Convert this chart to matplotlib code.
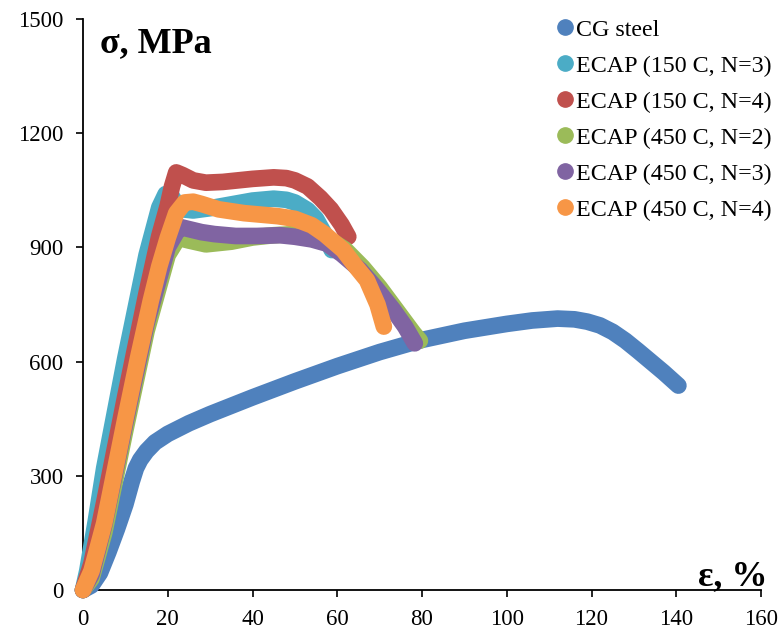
import matplotlib
matplotlib.use("Agg")
import matplotlib.pyplot as plt
from matplotlib.lines import Line2D

plt.rcParams['font.family'] = ['Liberation Serif', 'DejaVu Serif']

# strain (%) and stress (MPa) for each specimen
cg_strain = [0, 2, 4, 6, 8, 10, 11.5, 12.5, 13.5, 15, 17, 20, 25, 30, 40, 50, 60, 70, 80,
             90, 100, 106, 112, 116, 119, 122, 125, 128, 131, 134, 137, 140.5]
cg_stress = [0, 12, 45, 100, 160, 225, 285, 320, 342, 365, 388, 410, 438, 462, 506, 548,
             588, 625, 657, 681, 699, 708, 713, 711, 705, 695, 678, 655, 628, 600, 572, 537]

e150n3_strain = [0, 1, 3, 5, 10, 15, 18, 19.5, 20.5, 22, 23.5, 26, 30, 35, 40, 45, 48, 50,
                 53, 55, 57, 58.7]
e150n3_stress = [0, 50, 180, 320, 610, 880, 1005, 1040, 1042, 1015, 1000, 997, 1003, 1013,
                 1023, 1028, 1025, 1018, 998, 975, 935, 893]

e150n4_strain = [0, 2, 5, 10, 15, 18, 20, 21, 22, 23.5, 26, 29, 33, 40, 45, 48, 50, 53, 56,
                 58.5, 61, 62.6]
e150n4_stress = [0, 70, 230, 510, 780, 930, 1010, 1060, 1097, 1090, 1076, 1070, 1072, 1080,
                 1084, 1082, 1076, 1060, 1030, 1000, 960, 928]

e450n2_strain = [0, 2, 5, 10, 15, 20, 22.5, 25, 29, 35, 40, 45, 50, 55, 58, 62, 66, 70, 73,
                 76, 78, 79.5]
e450n2_stress = [0, 30, 150, 420, 680, 880, 925, 918, 908, 915, 926, 932, 935, 933, 922, 893,
                 848, 795, 750, 705, 675, 655]

e450n3_strain = [0, 2, 5, 10, 15, 20, 22.8, 25, 28, 31, 36, 41, 46.5, 50, 54, 57.5, 61, 65.4,
                 69, 73.2, 76, 78.3]
e450n3_stress = [0, 40, 170, 440, 700, 900, 954, 948, 940, 935, 930, 930, 932, 928, 921, 910,
                 883, 841, 795, 736, 692, 648]

e450n4_strain = [0, 2, 5, 10, 13, 16, 18, 20, 22, 24, 26, 28, 32, 38, 42, 46, 50, 54, 57,
                 61.4, 64, 67, 69.5, 71]
e450n4_stress = [0, 50, 175, 450, 610, 760, 850, 925, 990, 1018, 1020, 1014, 1000, 990, 986,
                 982, 975, 958, 935, 893, 855, 814, 750, 692]

series = [
    ('CG steel', cg_strain, cg_stress, '#4F81BD'),
    ('ECAP (150 C, N=3)', e150n3_strain, e150n3_stress, '#4BACC6'),
    ('ECAP (150 C, N=4)', e150n4_strain, e150n4_stress, '#C0504D'),
    ('ECAP (450 C, N=2)', e450n2_strain, e450n2_stress, '#9BBB59'),
    ('ECAP (450 C, N=3)', e450n3_strain, e450n3_stress, '#8064A2'),
    ('ECAP (450 C, N=4)', e450n4_strain, e450n4_stress, '#F79646'),
]

fig = plt.figure(figsize=(7.84, 6.38), dpi=100)
ax = fig.add_axes([83/784, 1 - 590/638, 678/784, 571/638])

for name, x, y, c in series:
    ax.plot(x, y, color=c, linewidth=12, solid_capstyle='round',
            solid_joinstyle='round', clip_on=False)

ax.set_xlim(0, 160)
ax.set_ylim(0, 1500)
ax.set_xticks(range(0, 161, 20))
ax.set_yticks(range(0, 1501, 300))

for side in ['top', 'right']:
    ax.spines[side].set_visible(False)
for side in ['left', 'bottom']:
    ax.spines[side].set_linewidth(1.3)
    ax.spines[side].set_color('black')
    ax.spines[side].set_zorder(0.5)
ax.tick_params(direction='out', length=5, width=1.2, labelsize=16.5, pad=9)

ax.text(0.025, 0.956, 'σ, MPa', transform=ax.transAxes, fontsize=26,
        fontweight='bold', va='center', ha='left')
ax.text(1.01, 0.023, 'ε, %', transform=ax.transAxes, fontsize=26,
        fontweight='bold', va='center', ha='right')

handles = [Line2D([], [], linestyle='none', marker='o', markersize=11,
                  markerfacecolor=c, markeredgecolor=c) for _, _, _, c in series]
labels = [s[0] for s in series]
fig.legend(handles, labels, loc='upper right', bbox_to_anchor=(771/784, 1 - 19/638),
           frameon=False, fontsize=17.3, handlelength=0.6, handletextpad=0.15,
           labelspacing=0.59, borderpad=0, borderaxespad=0)

fig.savefig('out.png', dpi=100)
